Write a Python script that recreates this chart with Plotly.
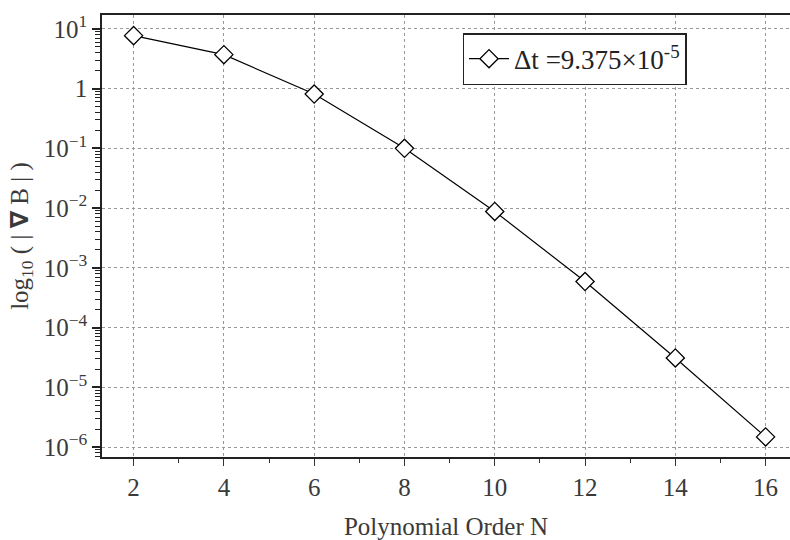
import plotly.graph_objects as go

N = [2, 4, 6, 8, 10, 12, 14, 16]
divB = [7.7, 3.7, 0.81, 0.1, 0.0088, 5.9e-4, 3.1e-5, 1.48e-6]
series_name = "Δt =9.375×10<sup>-5</sup>"

x_ticks = [2, 4, 6, 8, 10, 12, 14, 16]
y_tickvals = [10, 1, 0.1, 0.01, 1e-3, 1e-4, 1e-5, 1e-6]
y_ticktext = ["10<sup>1</sup>", "1", "10<sup>−1</sup>", "10<sup>−2</sup>", "10<sup>−3</sup>",
              "10<sup>−4</sup>", "10<sup>−5</sup>", "10<sup>−6</sup>"]
decades = [-7, -6, -5, -4, -3, -2, -1, 0, 1]
y_minor = [k * 10.0 ** e for e in decades for k in range(2, 10)]

FONT = "Liberation Serif"
TXT = "#3a3a3a"
YRANGE = [-6.166, 1.232]
fig = go.Figure()
fig.add_trace(go.Scatter(
    x=N, y=divB, mode="lines+markers", name=series_name,
    line=dict(color="black", width=1.2),
    marker=dict(symbol="diamond", size=14, color="white", line=dict(color="black", width=1.3)),
))

fig.update_layout(
    width=790, height=540,
    margin=dict(l=102, r=0, t=15, b=79),
    paper_bgcolor="white", plot_bgcolor="white",
    font=dict(family=FONT, size=25, color=TXT),
    showlegend=True,
    legend=dict(x=0.524, y=0.959, xanchor="left", yanchor="top",
                bordercolor="#222", borderwidth=1.5, bgcolor="white", itemwidth=40,
                font=dict(family=FONT, size=27, color="#222")),
    xaxis=dict(
        range=[1.30, 16.54], tickvals=x_ticks, ticks="outside", ticklen=7, tickwidth=1.2,
        tickcolor="#333", showline=True, linecolor="#222", linewidth=1.5, mirror=True,
        showgrid=True, gridcolor="#999", griddash="dot", gridwidth=1, zeroline=False,
        minor=dict(dtick=1, tick0=1, ticks="outside", ticklen=4, tickcolor="#333", showgrid=False),
        title=dict(text="Polynomial Order N", font=dict(family=FONT, size=25, color=TXT), standoff=22),
    ),
    yaxis=dict(
        type="log", range=YRANGE, tickvals=y_tickvals, ticktext=y_ticktext,
        ticks="outside", ticklen=8, tickwidth=1.5, tickcolor="#222",
        showline=True, linecolor="#222", linewidth=1.5,
        showgrid=True, gridcolor="#999", griddash="dot", gridwidth=1, zeroline=False,
        minor=dict(tickmode="array", tickvals=y_minor, ticks="outside", ticklen=5,
                   tickwidth=1.3, tickcolor="#222", showgrid=False),
        title=dict(text="log<sub>10</sub> ( | <b><span style='font-family:DejaVu Sans'>∇</span></b> B | )",
                   font=dict(family=FONT, size=25, color=TXT), standoff=8),
    ),
)

fig.write_html("out.html", config={"displayModeBar": False},
               post_script="document.body.style.margin='0';")
